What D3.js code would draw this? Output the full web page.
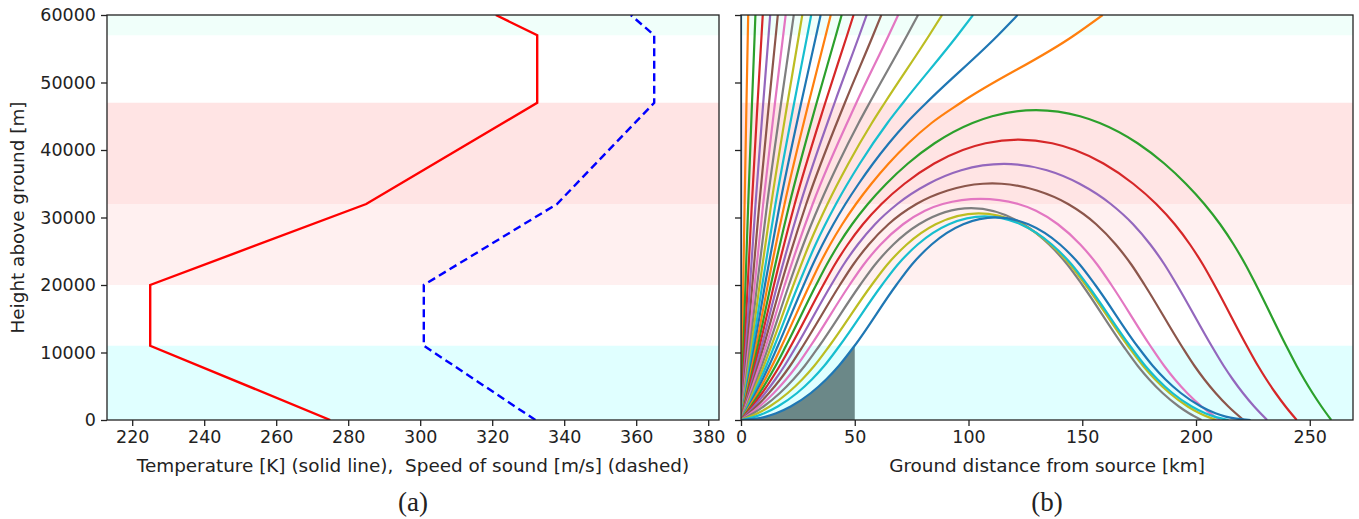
<!DOCTYPE html>
<html><head><meta charset="utf-8">
<script src="https://cdn.jsdelivr.net/npm/d3@7"></script>
<style>
body{margin:0;background:#fff}
svg{display:block}
text{font-family:"DejaVu Sans",sans-serif;fill:#222}
</style>
</head><body>
<svg id="c" width="1359" height="519"></svg>
<script>
// ---------- data ----------
const altitudes   = [0, 11000, 20000, 32000, 47000, 57000, 60000];
const temperature = [275, 225, 225, 285, 332.5, 332.5, 321];
const soundSpeed  = [332, 301, 301, 338, 365, 365, 358.5];

const bandLow   = [0, 20000, 32000, 57000];
const bandHigh  = [11000, 32000, 47000, 60000];
const bandColor = ["#e0ffff", "#fff0f0", "#ffe4e4", "#f0fffa"];

const heightTicks = [0, 10000, 20000, 30000, 40000, 50000, 60000];
const tempTicks   = [220, 240, 260, 280, 300, 320, 340, 360, 380];
const distTicks   = [0, 50, 100, 150, 200, 250];

const shadowZoneEnd = 50; // km

const rayColors = ["#1f77b4","#ff7f0e","#2ca02c","#d62728","#9467bd","#8c564b","#e377c2","#7f7f7f","#bcbd22","#17becf"];

// ray paths: [ground distance km, height m], launch elevation 90° down to 0° in 3° steps
const rays = [
 [[0,0],[0,60000]],
 [[0,0],[0.55,11000],[0.98,20000],[1.58,32000],[2.41,47000],[2.99,57000],[3.16,60000]],
 [[0,0],[1.10,11000],[1.96,20000],[3.17,32000],[4.84,47000],[6.00,57000],[6.34,60000]],
 [[0,0],[1.66,11000],[2.94,20000],[4.77,32000],[7.29,47000],[9.04,57000],[9.56,60000]],
 [[0,0],[2.22,11000],[3.95,20000],[6.39,32000],[9.78,47000],[12.13,57000],[12.83,60000]],
 [[0,0],[2.80,11000],[4.97,20000],[8.05,32000],[12.33,47000],[15.30,57000],[16.18,60000]],
 [[0,0],[3.39,11000],[6.01,20000],[9.74,32000],[14.94,47000],[18.55,57000],[19.63,60000]],
 [[0,0],[3.99,11000],[7.08,20000],[11.48,32000],[17.64,47000],[21.93,57000],[23.20,60000]],
 [[0,0],[4.62,11000],[8.18,20000],[13.28,32000],[20.45,47000],[25.45,57000],[26.94,60000]],
 [[0,0],[5.28,11000],[9.33,20000],[15.15,32000],[23.38,47000],[29.15,57000],[30.86,60000]],
 [[0,0],[5.96,11000],[10.52,20000],[17.10,32000],[26.47,47000],[33.06,57000],[35.01,60000]],
 [[0,0],[6.68,11000],[11.77,20000],[19.15,32000],[29.75,47000],[37.24,57000],[39.45,60000]],
 [[0,0],[7.44,11000],[13.09,20000],[21.31,32000],[33.26,47000],[41.74,57000],[44.24,60000]],
 [[0,0],[8.24,11000],[14.48,20000],[23.61,32000],[37.04,47000],[46.64,57000],[49.47,60000]],
 [[0,0],[9.11,11000],[15.95,20000],[26.05,32000],[41.15,47000],[52.03,57000],[55.23,60000]],
 [[0,0],[10.04,11000],[17.53,20000],[28.68,32000],[45.67,47000],[58.06,57000],[61.69,60000]],
 [[0,0],[11.05,11000],[19.22,20000],[31.51,32000],[50.72,47000],[64.93,57000],[69.08,60000]],
 [[0,0],[4.74,4000],[9.11,8000],[12.17,11000],[21.06,20000],[27.40,26000],[34.64,32000],[42.77,38000],[51.71,44000],[56.53,47000],[73.03,57000],[77.82,60000]],
 [[0,0],[5.25,4000],[10.05,8000],[13.38,11000],[23.04,20000],[29.97,26000],[38.02,32000],[47.22,38000],[57.53,44000],[63.20,47000],[82.75,57000],[88.37,60000]],
 [[0,0],[5.84,4000],[11.10,8000],[14.72,11000],[25.20,20000],[32.77,26000],[41.75,32000],[52.25,38000],[64.37,44000],[71.24,47000],[95.20,57000],[101.99,60000]],
 [[0,0],[3.35,2000],[6.51,4000],[9.48,6000],[12.28,8000],[16.22,11000],[27.56,20000],[31.51,23000],[35.83,26000],[40.60,29000],[45.89,32000],[51.72,35000],[58.05,38000],[65.00,41000],[72.74,44000],[81.52,47000],[112.98,57000],[121.61,60000]],
 [[0,0],[3.78,2000],[7.28,4000],[10.56,6000],[13.63,8000],[17.90,11000],[30.15,20000],[34.44,23000],[39.19,26000],[44.50,29000],[50.53,32000],[57.32,35000],[64.91,38000],[73.55,41000],[83.75,44000],[96.61,47000],[146.50,57000],[158.97,60000]],
 [[0,0],[4.28,2000],[8.20,4000],[11.82,6000],[15.18,8000],[19.80,11000],[33.01,20000],[37.66,23000],[42.87,26000],[48.82,29000],[55.77,32000],[63.88,35000],[73.37,38000],[85.10,41000],[101.75,44000],[110.39,45000],[129.71,45910],[149.03,45000],[157.67,44000],[174.32,41000],[186.05,38000],[195.54,35000],[203.65,32000],[210.60,29000],[216.55,26000],[221.76,23000],[226.41,20000],[239.62,11000],[244.24,8000],[247.60,6000],[251.22,4000],[255.14,2000],[259.42,0]],
 [[0,0],[4.91,2000],[9.30,4000],[13.30,6000],[16.97,8000],[21.97,11000],[36.16,20000],[41.18,23000],[46.91,26000],[53.60,29000],[61.75,32000],[71.86,35000],[84.94,38000],[97.50,40000],[107.50,41000],[122.13,41540],[136.76,41000],[146.76,40000],[159.32,38000],[172.40,35000],[182.51,32000],[190.66,29000],[197.35,26000],[203.08,23000],[208.10,20000],[222.29,11000],[227.29,8000],[230.96,6000],[234.96,4000],[239.35,2000],[244.26,0]],
 [[0,0],[5.69,2000],[10.65,4000],[15.07,6000],[19.07,8000],[24.45,11000],[39.64,20000],[45.05,23000],[51.35,26000],[58.92,29000],[68.72,32000],[82.46,35000],[96.80,37000],[115.63,37940],[134.46,37000],[148.80,35000],[162.54,32000],[172.34,29000],[179.91,26000],[186.21,23000],[191.62,20000],[206.81,11000],[212.19,8000],[216.19,6000],[220.61,4000],[225.57,2000],[231.26,0]],
 [[0,0],[6.70,2000],[12.31,4000],[17.20,6000],[21.54,8000],[27.31,11000],[43.47,20000],[49.28,23000],[56.17,26000],[64.79,29000],[77.13,32000],[90.84,34000],[106.34,35000],[110.45,35045],[114.56,35000],[130.06,34000],[143.77,32000],[156.11,29000],[164.73,26000],[171.62,23000],[177.43,20000],[193.59,11000],[199.36,8000],[203.70,6000],[208.59,4000],[214.20,2000],[220.90,0]],
 [[0,0],[4.32,1000],[8.06,2000],[14.42,4000],[19.79,6000],[24.48,8000],[30.62,11000],[47.70,20000],[53.89,23000],[61.39,26000],[71.24,29000],[80.84,31000],[88.68,32000],[105.26,32760],[121.84,32000],[129.68,31000],[139.28,29000],[149.13,26000],[156.63,23000],[162.82,20000],[179.90,11000],[186.04,8000],[190.73,6000],[196.10,4000],[202.46,2000],[206.20,1000],[210.52,0]],
 [[0,0],[5.49,1000],[9.93,2000],[17.11,4000],[22.96,6000],[27.98,8000],[34.45,11000],[52.35,20000],[58.88,23000],[66.97,26000],[78.23,29000],[101.20,31390],[124.17,29000],[135.43,26000],[143.52,23000],[150.05,20000],[167.95,11000],[174.42,8000],[179.44,6000],[185.29,4000],[192.47,2000],[196.91,1000],[202.40,0]],
 [[0,0],[7.34,1000],[12.59,2000],[20.58,4000],[26.87,6000],[32.16,8000],[38.90,11000],[57.43,20000],[64.24,23000],[72.84,26000],[85.57,29000],[104.46,30620],[123.35,29000],[136.08,26000],[144.68,23000],[151.49,20000],[170.02,11000],[176.76,8000],[182.05,6000],[188.34,4000],[196.33,2000],[201.58,1000],[208.92,0]],
 [[0,0],[6.23,500],[10.23,1000],[16.16,2000],[24.66,4000],[31.13,6000],[36.53,8000],[43.33,11000],[61.97,20000],[68.84,23000],[77.66,26000],[91.41,29000],[107.14,30160],[122.87,29000],[136.62,26000],[145.44,23000],[152.31,20000],[170.95,11000],[177.75,8000],[183.15,6000],[189.62,4000],[198.12,2000],[204.05,1000],[208.05,500],[214.28,0]],
 [[0,0],[10.94,500],[15.46,1000],[21.82,2000],[30.71,4000],[37.41,6000],[42.95,8000],[49.92,11000],[68.27,20000],[75.04,23000],[83.77,26000],[97.69,29000],[112.0,30010],[126.31,29000],[140.23,26000],[148.96,23000],[155.73,20000],[174.08,11000],[181.05,8000],[186.59,6000],[193.29,4000],[202.18,2000],[208.54,1000],[213.06,500],[224,0]]
];

// ---------- layout ----------
const svg = d3.select("#c");
const T = 15, Bm = 420;
const PA = {l:107, r:719}, PB = {l:741, r:1353};
const y  = d3.scaleLinear().domain([0,60000]).range([Bm,T]);
const xA = d3.scaleLinear().domain([213,383]).range([PA.l,PA.r]);
const xB = d3.scaleLinear().domain([0,269]).range([PB.l,PB.r]);
const FS = 17.5, FL = 18.4;
const axisCol = "#222";

svg.append("rect").attr("width",1359).attr("height",519).attr("fill","#fff");

function makePanel(P, id){
  svg.append("clipPath").attr("id",id).append("rect")
    .attr("x",P.l).attr("y",T).attr("width",P.r-P.l).attr("height",Bm-T);
  const g = svg.append("g").attr("clip-path",`url(#${id})`);
  g.selectAll("rect.band").data(bandLow).enter().append("rect")
    .attr("x",P.l).attr("width",P.r-P.l)
    .attr("y",(d,i)=>y(bandHigh[i])).attr("height",(d,i)=>y(d)-y(bandHigh[i]))
    .attr("fill",(d,i)=>bandColor[i]);
  return g;
}

// ---------- panel (a) ----------
const ga = makePanel(PA,"clipA");
const profT = altitudes.map((h,i)=>[temperature[i],h]);
const profC = altitudes.map((h,i)=>[soundSpeed[i],h]);
const lineA = d3.line().x(d=>xA(d[0])).y(d=>y(d[1]));
ga.append("path").attr("d",lineA(profT)).attr("fill","none")
  .attr("stroke","#ff0000").attr("stroke-width",2.4).attr("stroke-linejoin","miter");
ga.append("path").attr("d",lineA(profC)).attr("fill","none")
  .attr("stroke","#0000ff").attr("stroke-width",2.4).attr("stroke-dasharray","8,4.5");

// ---------- panel (b) ----------
const gb = makePanel(PB,"clipB");
svg.append("clipPath").attr("id","clipShadow").append("rect")
  .attr("x",xB(0)).attr("y",T).attr("width",xB(shadowZoneEnd)-xB(0)).attr("height",Bm-T);
const lowest = rays[rays.length-1];
const area = d3.area().x(d=>xB(d[0])).y0(y(0)).y1(d=>y(d[1])).curve(d3.curveMonotoneX);
gb.append("g").attr("clip-path","url(#clipShadow)")
  .append("path").attr("d",area(lowest)).attr("fill","#6b8888");

const lineB = d3.line().x(d=>xB(d[0])).y(d=>y(d[1])).curve(d3.curveMonotoneX);
gb.selectAll("path.ray").data(rays).enter().append("path")
  .attr("class","ray").attr("d",d=>lineB(d)).attr("fill","none")
  .attr("stroke",(d,i)=>rayColors[i%10]).attr("stroke-width",2.2);

// ---------- axes ----------
function styleAxis(sel){
  sel.select(".domain").remove();
  sel.selectAll(".tick line").attr("stroke",axisCol).attr("stroke-width",1.3);
  sel.selectAll(".tick text").attr("font-size",FS).attr("fill",axisCol)
     .attr("font-family","DejaVu Sans");
}
styleAxis(svg.append("g").attr("transform",`translate(${PA.l},0)`)
  .call(d3.axisLeft(y).tickValues(heightTicks).tickSize(6).tickPadding(5).tickFormat(d3.format("d"))));
styleAxis(svg.append("g").attr("transform",`translate(${PB.l},0)`)
  .call(d3.axisLeft(y).tickValues(heightTicks).tickSize(6).tickFormat(()=>"")));
styleAxis(svg.append("g").attr("transform",`translate(0,${Bm})`)
  .call(d3.axisBottom(xA).tickValues(tempTicks).tickSize(6).tickPadding(5)));
styleAxis(svg.append("g").attr("transform",`translate(0,${Bm})`)
  .call(d3.axisBottom(xB).tickValues(distTicks).tickSize(6).tickPadding(5)));

[PA,PB].forEach(P=>{
  svg.append("rect").attr("x",P.l).attr("y",T).attr("width",P.r-P.l).attr("height",Bm-T)
    .attr("fill","none").attr("stroke",axisCol).attr("stroke-width",1.3);
});

// ---------- labels ----------
svg.append("text").attr("transform",`translate(24,${(T+Bm)/2}) rotate(-90)`)
  .attr("text-anchor","middle").attr("font-size",FL).text("Height above ground [m]");
svg.append("text").attr("x",(PA.l+PA.r)/2).attr("y",472).attr("text-anchor","middle")
  .attr("font-size",FL)
  .text("Temperature [K] (solid line),\u00a0 Speed of sound [m/s] (dashed)");
svg.append("text").attr("x",(PB.l+PB.r)/2).attr("y",472).attr("text-anchor","middle")
  .attr("font-size",FL).text("Ground distance from source [km]");
svg.append("text").attr("x",(PA.l+PA.r)/2).attr("y",511).attr("text-anchor","middle")
  .attr("font-size",27).style("font-family","'Liberation Serif','Times New Roman',serif").text("(a)");
svg.append("text").attr("x",(PB.l+PB.r)/2).attr("y",511).attr("text-anchor","middle")
  .attr("font-size",27).style("font-family","'Liberation Serif','Times New Roman',serif").text("(b)");
</script>
</body></html>
